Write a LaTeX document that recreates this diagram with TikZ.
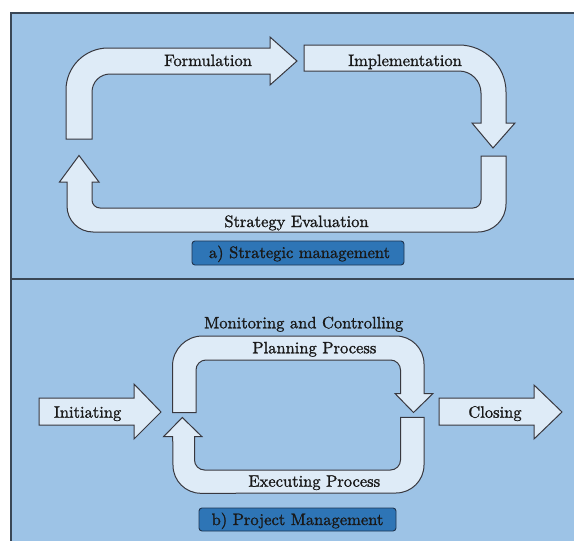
\documentclass[tikz,border=0pt]{standalone}
\font\labfont="[lmroman10-regular]:mapping=tex-text;embolden=1.3" at 16.5pt
\definecolor{panelbg}{HTML}{9DC3E6}
\definecolor{panelline}{HTML}{3A4756}
\definecolor{arrowfill}{HTML}{DEEBF7}
\definecolor{arrowline}{HTML}{38383F}
\definecolor{tagfill}{HTML}{2E75B6}
\definecolor{tagline}{HTML}{1F3550}
\tikzset{
  flow/.style={fill=arrowfill, draw=arrowline, line width=1pt, line join=miter},
  lab/.style={font=\labfont, inner sep=0pt, anchor=base, text=black!90},
  tagbox/.style={fill=tagfill, draw=tagline, line width=0.9pt, rounded corners=3pt},
}
\begin{document}
\begin{tikzpicture}[x=1pt,y=-1pt]
\useasboundingbox (0,0) rectangle (574,541);
\clip (0,0) rectangle (574,541);
\fill[white] (0,0) rectangle (574,541);
% panel
\draw[fill=panelbg, draw=panelline, line width=1.2pt] (11,13) rectangle (600,570);
\draw[draw=panelline, line width=1.4pt] (11,279) -- (600,279);

% ---------- a) strategic management ----------
\draw[flow] (66,139) -- (66,90) arc[start angle=180,end angle=90,radius=42pt]
  -- (270,48) -- (270,37) -- (297,61) -- (270,85) -- (270,74)
  -- (110,74) arc[start angle=90,end angle=180,radius=18pt] -- (92,139) -- cycle;
\draw[flow] (304,45) -- (459,45) arc[start angle=90,end angle=0,radius=47pt]
  -- (506,123) -- (515,123) -- (493,148) -- (472,123) -- (481,123)
  -- (481,93) arc[start angle=0,end angle=90,radius=22pt] -- (304,71) -- cycle;
\draw[flow] (481,156) -- (506,156) -- (506,204) arc[start angle=0,end angle=-90,radius=28pt]
  -- (93,232) arc[start angle=270,end angle=180,radius=26pt]
  -- (67,182) -- (59.5,182) -- (79,155.5) -- (99,182) -- (92,182)
  -- (92,200) arc[start angle=180,end angle=270,radius=8pt]
  -- (473,208) arc[start angle=-90,end angle=0,radius=8pt] -- cycle;

\node[lab] (form) at (208,66) {Formulation};
\node[lab] (impl) at (405,66) {Implementation};
\node[lab] (eval) at (296.5,227) {Strategy Evaluation};
\draw[tagbox] (192,241) rectangle (404,265);
\node[lab] (taga) at (299.5,258) {a) Strategic management};

% ---------- b) project management ----------
\draw[flow] (172.5,412.5) -- (172.5,366) arc[start angle=180,end angle=90,radius=30pt]
  -- (396,336) arc[start angle=90,end angle=0,radius=28pt]
  -- (424,393.5) -- (433,393.5) -- (413.5,412.5) -- (395,393.5) -- (400.5,393.5)
  -- (400.5,370) arc[start angle=0,end angle=90,radius=10pt]
  -- (206,360) arc[start angle=90,end angle=180,radius=10pt] -- (196,412.5) -- cycle;
\draw[flow] (400.5,417.3) -- (424,417.3) -- (424,465) arc[start angle=0,end angle=-90,radius=28pt]
  -- (201,493.3) arc[start angle=270,end angle=180,radius=28pt]
  -- (172.7,436.7) -- (163.5,436.7) -- (182.3,417.5) -- (202,436.7) -- (194.5,436.7)
  -- (194.5,460) arc[start angle=180,end angle=270,radius=10pt]
  -- (390.5,470) arc[start angle=-90,end angle=0,radius=10pt] -- cycle;
\draw[flow] (39,398) -- (134,398) -- (134,384) -- (161,412) -- (134,439) -- (134,425) -- (39,425) -- cycle;
\draw[flow] (439,398) -- (534,398) -- (534,385) -- (562,412) -- (534,439) -- (534,425) -- (439,425) -- cycle;

\node[lab] (moni) at (303.7,328.3) {Monitoring and Controlling};
\node[lab] (plan) at (314.4,353.3) {Planning Process};
\node[lab] (exec) at (314.3,486.7) {Executing Process};
\node[lab] (init) at (87.6,417.7) {Initiating};
\node[lab] (clos) at (495,417.7) {Closing};
\draw[tagbox] (199,508) rectangle (396,531);
\node[lab] (tagb) at (297.5,525) {b) Project Management};
\end{tikzpicture}
\end{document}
